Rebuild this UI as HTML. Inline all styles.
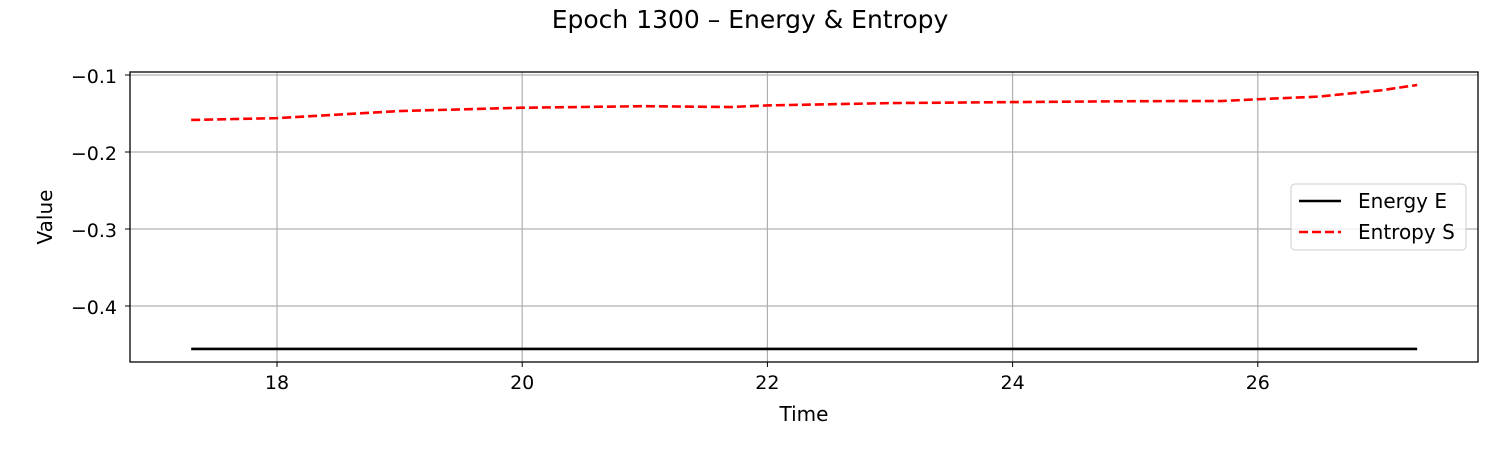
<!DOCTYPE html>
<html><head><meta charset="utf-8"><style>
body{margin:0;background:#fff;font-family:"Liberation Sans","DejaVu Sans",sans-serif}
</style></head><body>
<svg id="chart" width="1500" height="450" xmlns="http://www.w3.org/2000/svg" font-family="DejaVu Sans, Liberation Sans, sans-serif">
<text x="750" y="28" text-anchor="middle" font-size="25">Epoch 1300 – Energy &amp; Entropy</text>
<g id="grid"></g><g id="ticks"></g><g id="series"></g>
<rect x="130" y="72" width="1348" height="290" fill="none" stroke="#000" stroke-width="1.3"/>
<text x="804" y="421" text-anchor="middle" font-size="20">Time</text>
<text transform="translate(52,217) rotate(-90)" text-anchor="middle" font-size="20">Value</text>
<g>
<rect x="1291" y="184" width="175" height="66" rx="4" fill="#fff" fill-opacity="0.8" stroke="#ccc"/>
<line x1="1299" y1="201" x2="1341" y2="201" stroke="#000" stroke-width="2.6"/>
<text x="1358" y="208" font-size="20">Energy E</text>
<line x1="1299" y1="232" x2="1341" y2="232" stroke="#f00" stroke-width="2.6" stroke-dasharray="9,4"/>
<text x="1358" y="239" font-size="20">Entropy S</text>
</g>
</svg>
<script>
const times=[17.3,18,19,20,21,21.7,22,23,24,25,25.7,26,26.5,27,27.3];
const entropy=[-0.1584,-0.156,-0.1468,-0.1425,-0.1405,-0.1416,-0.1395,-0.1365,-0.1352,-0.134,-0.1338,-0.1315,-0.128,-0.12,-0.113];
const energyTimes=[17.3,27.3];
const energy=[-0.4558,-0.4558];
const xTicks=[18,20,22,24,26];
const yTicks=[-0.1,-0.2,-0.3,-0.4];
const X=v=>277+(v-18)*122.6;
const Y=v=>75+(-0.1-v)*770;
const NS="http://www.w3.org/2000/svg";
const grid=document.getElementById('grid'),ticks=document.getElementById('ticks'),series=document.getElementById('series');
function mk(tag,attrs,parent){const e=document.createElementNS(NS,tag);for(const k in attrs)e.setAttribute(k,attrs[k]);parent.appendChild(e);return e;}
xTicks.forEach(t=>{const x=X(t);
const g=mk('line',{x1:x,x2:x,y1:72,y2:362,stroke:'#b0b0b0','stroke-width':1.2},grid);


mk('line',{x1:x,x2:x,y1:362,y2:367,stroke:'#000'},ticks);
const l=mk('text',{x:x,y:389,'text-anchor':'middle','font-size':19},ticks);l.textContent=t;

});
yTicks.forEach(t=>{const y=Y(t);
const g=mk('line',{x1:130,x2:1478,y1:y,y2:y,stroke:'#b0b0b0','stroke-width':1.2},grid);


mk('line',{x1:125,x2:130,y1:y,y2:y,stroke:'#000'},ticks);
const l=mk('text',{x:117,y:y+8,'text-anchor':'end','font-size':19},ticks);l.textContent='\u2212'+Math.abs(t).toFixed(1);

});
const e=mk('polyline',{points:energyTimes.map((t,i)=>X(t)+','+Y(energy[i])).join(' '),fill:'none',stroke:'#000','stroke-width':2.6},series);


const s=mk('polyline',{points:times.map((t,i)=>X(t)+','+Y(entropy[i])).join(' '),fill:'none',stroke:'#f00','stroke-width':2.6,'stroke-dasharray':'9,4'},series);


</script>
</body></html>
